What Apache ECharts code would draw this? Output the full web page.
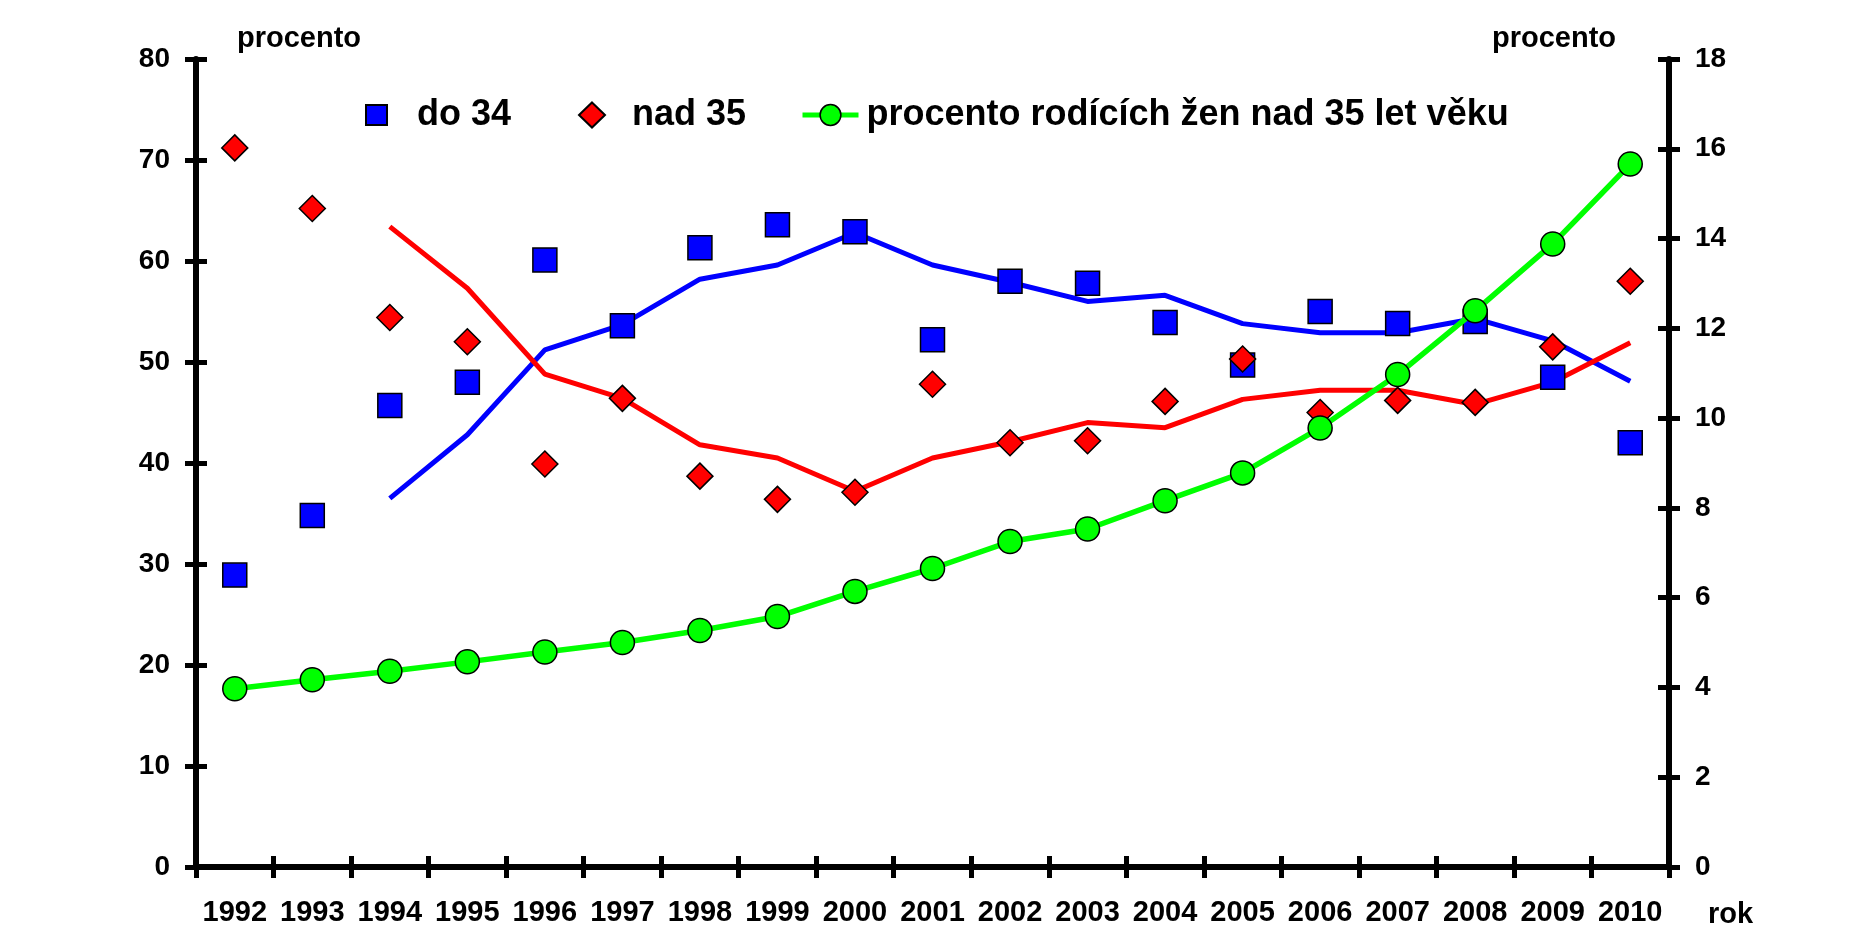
<!DOCTYPE html>
<html>
<head>
<meta charset="utf-8">
<script src="https://cdn.jsdelivr.net/npm/echarts@6/dist/echarts.min.js"></script>
<style>
html,body{margin:0;padding:0;background:#fff;}
#chart{width:1852px;height:931px;}
</style>
</head>
<body>
<div id="chart"></div>
<script>
const years = ['1992','1993','1994','1995','1996','1997','1998','1999','2000','2001','2002','2003','2004','2005','2006','2007','2008','2009','2010'];
const do34 = [28.9, 34.8, 45.7, 48.0, 60.1, 53.6, 61.3, 63.6, 62.9, 52.2, 58.0, 57.8, 53.9, 49.7, 55.0, 53.8, 54.0, 48.5, 42.0];
const nad35 = [71.2, 65.2, 54.4, 52.0, 39.9, 46.4, 38.7, 36.4, 37.1, 47.8, 42.0, 42.2, 46.1, 50.3, 45.0, 46.2, 46.0, 51.5, 58.0];
const do34Trend = [null, null, 36.5, 42.8, 51.2, 53.7, 58.2, 59.6, 62.8, 59.6, 57.9, 56.0, 56.6, 53.8, 52.9, 52.9, 54.3, 52.1, 48.1];
const nad35Trend = [null, null, 63.4, 57.3, 48.8, 46.4, 41.8, 40.5, 37.2, 40.5, 42.1, 44.0, 43.5, 46.3, 47.2, 47.2, 45.8, 48.0, 51.9];
const podil35 = [3.97, 4.17, 4.36, 4.57, 4.79, 5.0, 5.27, 5.58, 6.14, 6.65, 7.25, 7.53, 8.16, 8.78, 9.78, 10.97, 12.39, 13.88, 15.66];

const FONT = 'Liberation Sans, Arial, sans-serif';
const chart = echarts.init(document.getElementById('chart'));
const axisLine = {show: true, lineStyle: {color: '#000', width: 6}};
const tickOut = {show: true, inside: false, length: 11, lineStyle: {color: '#000', width: 5}};
const tickIn = {show: true, inside: true, length: 11, lineStyle: {color: '#000', width: 5}};
const lbl = {color: '#000', fontFamily: FONT, fontWeight: 'bold', fontSize: 28};
const legText = {color: '#000', fontFamily: FONT, fontWeight: 'bold', fontSize: 36};

chart.setOption({
  animation: false,
  backgroundColor: '#fff',
  grid: {left: 196, right: 183, top: 59, bottom: 64},
  legend: [
    {data: ['do 34'], left: 365, top: 97, padding: 0, itemWidth: 21, itemHeight: 20,
     textStyle: Object.assign({padding: [0,0,0,25]}, legText)},
    {data: ['nad 35'], left: 578, top: 97, padding: 0, itemWidth: 26, itemHeight: 25,
     textStyle: Object.assign({padding: [0,0,0,22]}, legText)},
    {data: ['procento rodících žen nad 35 let věku'], left: 800, top: 97, padding: 0, itemWidth: 56, itemHeight: 26,
     lineStyle: {width: 5}, itemStyle: {borderWidth: 1.5},
     textStyle: Object.assign({padding: [0,0,0,3]}, legText)}
  ],
  xAxis: [
    {type: 'category', data: years, boundaryGap: true, position: 'bottom',
     axisLine: axisLine, axisTick: Object.assign({interval: 0}, tickOut),
     axisLabel: Object.assign({interval: 0, margin: 31}, lbl, {fontSize: 29}), splitLine: {show: false}},
    {type: 'category', data: years, boundaryGap: true, position: 'bottom', gridIndex: 0,
     axisLine: {show: false}, axisTick: Object.assign({interval: 0}, tickIn),
     axisLabel: {show: false}, splitLine: {show: false}}
  ],
  yAxis: [
    {type: 'value', min: 0, max: 80, interval: 10, position: 'left',
     axisLine: axisLine, axisTick: tickOut, axisLabel: Object.assign({margin: 26}, lbl), splitLine: {show: false}},
    {type: 'value', min: 0, max: 18, interval: 2, position: 'right',
     axisLine: axisLine, axisTick: tickOut, axisLabel: Object.assign({margin: 26}, lbl), splitLine: {show: false}},
    {type: 'value', min: 0, max: 80, interval: 10, position: 'left',
     axisLine: {show: false}, axisTick: tickIn, axisLabel: {show: false}, splitLine: {show: false}},
    {type: 'value', min: 0, max: 18, interval: 2, position: 'right',
     axisLine: {show: false}, axisTick: tickIn, axisLabel: {show: false}, splitLine: {show: false}}
  ],
  graphic: [
    {type: 'text', left: 237, top: 24, style: {text: 'procento', fill: '#000', font: 'bold 29px ' + FONT}},
    {type: 'text', left: 1492, top: 24, style: {text: 'procento', fill: '#000', font: 'bold 29px ' + FONT}},
    {type: 'text', left: 1708, top: 900, style: {text: 'rok', fill: '#000', font: 'bold 29px ' + FONT}}
  ],
  series: [
    {name: 'do 34 trend', type: 'line', data: do34Trend, yAxisIndex: 0, symbol: 'none',
     lineStyle: {color: '#0000FF', width: 5}, itemStyle: {color: '#0000FF'}, z: 2},
    {name: 'nad 35 trend', type: 'line', data: nad35Trend, yAxisIndex: 0, symbol: 'none',
     lineStyle: {color: '#FF0000', width: 5}, itemStyle: {color: '#FF0000'}, z: 2},
    {name: 'do 34', type: 'scatter', data: do34, yAxisIndex: 0, symbol: 'rect', symbolSize: 24,
     itemStyle: {color: '#0000FF', borderColor: '#000', borderWidth: 1.5, opacity: 1}, z: 3},
    {name: 'nad 35', type: 'scatter', data: nad35, yAxisIndex: 0, symbol: 'diamond', symbolSize: 26,
     itemStyle: {color: '#FF0000', borderColor: '#000', borderWidth: 1.5, opacity: 1}, z: 3},
    {name: 'procento rodících žen nad 35 let věku', type: 'line', data: podil35, yAxisIndex: 1,
     symbol: 'circle', symbolSize: 24, showAllSymbol: true,
     lineStyle: {color: '#00FF00', width: 5.5}, itemStyle: {color: '#00FF00', borderColor: '#000', borderWidth: 1.5}, z: 4}
  ]
});
</script>
</body>
</html>
